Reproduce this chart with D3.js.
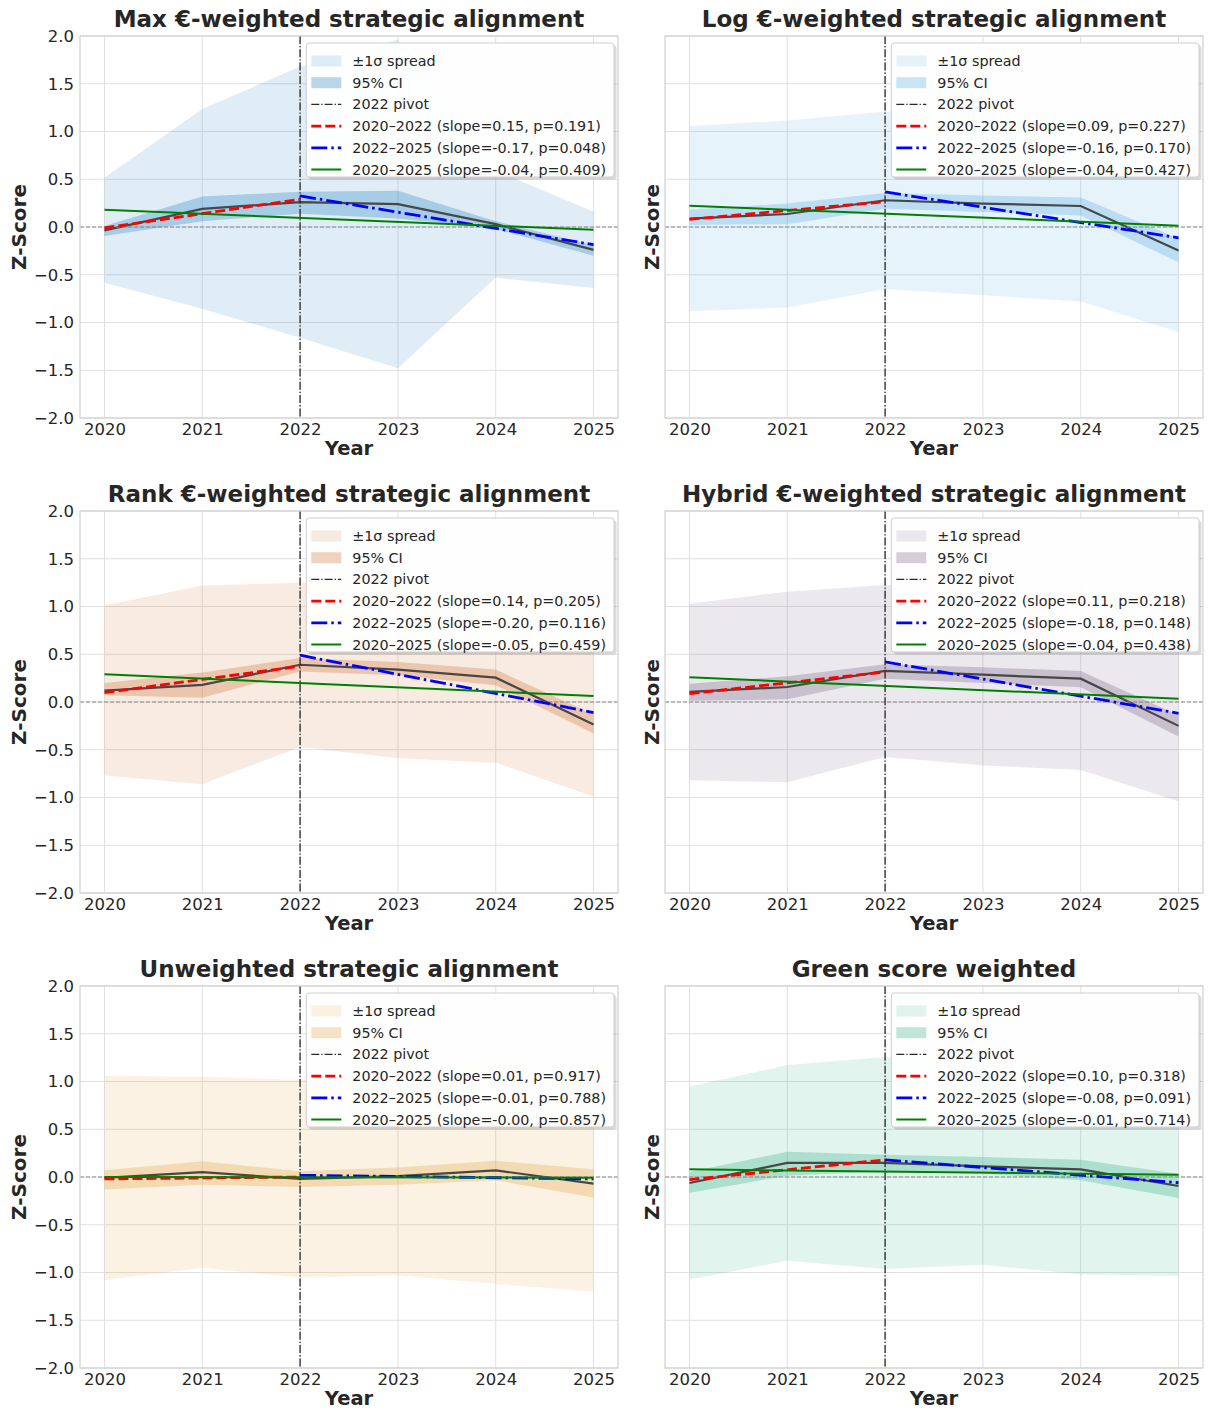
<!DOCTYPE html>
<html>
<head>
<meta charset="utf-8">
<script src="https://cdn.jsdelivr.net/npm/d3@7/dist/d3.min.js"></script>
<style>
    body { margin: 0; background: #fff; }
    text { font-family: "DejaVu Sans", sans-serif; fill: #262626; }
</style>
</head>
<body>
<svg id="viz" width="1208" height="1411"></svg>
<script>
var years = [2020, 2021, 2022, 2023, 2024, 2025];
var yTicks = [-2, -1.5, -1, -0.5, 0, 0.5, 1, 1.5, 2];

var titles = [
    "Max \u20ac-weighted strategic alignment",
    "Log \u20ac-weighted strategic alignment",
    "Rank \u20ac-weighted strategic alignment",
    "Hybrid \u20ac-weighted strategic alignment",
    "Unweighted strategic alignment",
    "Green score weighted"
];

// yearly mean z-score, one row per panel
var means = [
    [-0.035, 0.19, 0.26, 0.24, 0.03, -0.24],
    [0.087, 0.136, 0.28, 0.245, 0.22, -0.245],
    [0.12, 0.18, 0.39, 0.34, 0.255, -0.235],
    [0.105, 0.157, 0.325, 0.286, 0.244, -0.25],
    [-0.01, 0.05, -0.02, 0.01, 0.07, -0.07],
    [-0.063, 0.147, 0.147, 0.112, 0.08, -0.094]
];

// standard deviation (the +-1 sigma band)
var sds = [
    [0.55, 1.045, 1.42, 1.72, 0.56, 0.40],
    [0.97, 0.98, 0.93, 0.96, 1.0, 0.855],
    [0.89, 1.04, 0.86, 0.93, 0.89, 0.755],
    [0.925, 0.997, 0.90, 0.95, 0.955, 0.79],
    [1.07, 1.0, 1.035, 1.04, 1.19, 1.13],
    [1.01, 1.025, 1.11, 1.03, 1.1, 0.94]
];

// 95% CI bounds
var ciLow = [
    [-0.095, 0.06, 0.14, 0.09, -0.02, -0.30],
    [0.02, 0.03, 0.19, 0.157, 0.12, -0.37],
    [0.07, 0.045, 0.32, 0.28, 0.175, -0.33],
    [0.014, 0.028, 0.244, 0.2, 0.154, -0.36],
    [-0.13, -0.08, -0.105, -0.08, -0.035, -0.215],
    [-0.164, 0.014, 0.06, 0.035, -0.035, -0.22]
];
var ciHigh = [
    [0.01, 0.32, 0.37, 0.38, 0.06, -0.19],
    [0.18, 0.245, 0.356, 0.33, 0.31, -0.12],
    [0.20, 0.31, 0.46, 0.42, 0.34, -0.13],
    [0.19, 0.27, 0.394, 0.363, 0.325, -0.14],
    [0.07, 0.165, 0.06, 0.10, 0.17, 0.08],
    [0.052, 0.265, 0.234, 0.21, 0.18, 0.035]
];

// trend line end values: [start, end]
var trendEarly = [[-0.01, 0.29], [0.08, 0.265], [0.098, 0.375], [0.087, 0.314], [-0.02, 0.0], [-0.028, 0.18]];
var trendLate = [[0.325, -0.185], [0.367, -0.113], [0.49, -0.11], [0.42, -0.118], [0.018, -0.02], [0.18, -0.06]];
var trendAll = [[0.18, -0.03], [0.223, 0.014], [0.29, 0.063], [0.258, 0.035], [0.0, -0.007], [0.08, 0.024]];

var statsEarly = ["slope=0.15, p=0.191", "slope=0.09, p=0.227", "slope=0.14, p=0.205", "slope=0.11, p=0.218", "slope=0.01, p=0.917", "slope=0.10, p=0.318"];
var statsLate = ["slope=-0.17, p=0.048", "slope=-0.16, p=0.170", "slope=-0.20, p=0.116", "slope=-0.18, p=0.148", "slope=-0.01, p=0.788", "slope=-0.08, p=0.091"];
var statsAll = ["slope=-0.04, p=0.409", "slope=-0.04, p=0.427", "slope=-0.05, p=0.459", "slope=-0.04, p=0.438", "slope=-0.00, p=0.857", "slope=-0.01, p=0.714"];

var colors = ["#2e86c1", "#5dade2", "#d2783c", "#7d6a8a", "#e5a84b", "#3cb38a"];

var colLeft = [80, 665];
var rowTop = [36, 511, 986];
var axW = 538, axH = 382;

var svg = d3.select("#viz");

var x = d3.scaleLinear().domain([2019.75, 2025.25]).range([0, axW]);
var y = d3.scaleLinear().domain([-2, 2]).range([axH, 0]);

titles.forEach(function (title, p) {
    var col = p % 2, row = Math.floor(p / 2);
    var g = svg.append("g").attr("transform", "translate(" + colLeft[col] + "," + rowTop[row] + ")");

    g.append("clipPath").attr("id", "clip" + p)
        .append("rect").attr("width", axW).attr("height", axH);

    //grid
    g.append("g").selectAll("line").data(years).enter().append("line")
        .attr("x1", function (d) { return x(d); }).attr("x2", function (d) { return x(d); })
        .attr("y1", 0).attr("y2", axH)
        .attr("stroke", "#e0e0e0").attr("stroke-width", 1);
    g.append("g").selectAll("line").data(yTicks).enter().append("line")
        .attr("y1", function (d) { return y(d); }).attr("y2", function (d) { return y(d); })
        .attr("x1", 0).attr("x2", axW)
        .attr("stroke", "#e0e0e0").attr("stroke-width", 1);

    var plot = g.append("g").attr("clip-path", "url(#clip" + p + ")");
    var rows = years.map(function (yr, i) {
        return { year: yr, mean: means[p][i], sd: sds[p][i], lo: ciLow[p][i], hi: ciHigh[p][i] };
    });

    var spread = d3.area()
        .x(function (d) { return x(d.year); })
        .y0(function (d) { return y(d.mean - d.sd); })
        .y1(function (d) { return y(d.mean + d.sd); });
    var ci = d3.area()
        .x(function (d) { return x(d.year); })
        .y0(function (d) { return y(d.lo); })
        .y1(function (d) { return y(d.hi); });
    var meanLine = d3.line()
        .x(function (d) { return x(d.year); })
        .y(function (d) { return y(d.mean); });

    plot.append("path").datum(rows).attr("d", spread)
        .attr("fill", colors[p]).attr("fill-opacity", 0.15);
    plot.append("path").datum(rows).attr("d", ci)
        .attr("fill", colors[p]).attr("fill-opacity", 0.32);
    plot.append("path").datum(rows).attr("d", meanLine)
        .attr("fill", "none").attr("stroke", "#474747").attr("stroke-width", 2.2);

    // zero line
    plot.append("line")
        .attr("x1", 0).attr("x2", axW).attr("y1", y(0)).attr("y2", y(0))
        .attr("stroke", "#888").attr("stroke-width", 1).attr("stroke-dasharray", "4,2");
    // pivot
    plot.append("line")
        .attr("x1", x(2022)).attr("x2", x(2022)).attr("y1", 0).attr("y2", axH)
        .attr("stroke", "#2a2a2a").attr("stroke-width", 1.3).attr("stroke-dasharray", "8,2,1.3,2");

    var seg = d3.line()
        .x(function (d) { return x(d[0]); })
        .y(function (d) { return y(d[1]); });
    plot.append("path")
        .attr("d", seg([[2020, trendEarly[p][0]], [2022, trendEarly[p][1]]]))
        .attr("fill", "none").attr("stroke", "red").attr("stroke-width", 2.8)
        .attr("stroke-dasharray", "10,4");
    plot.append("path")
        .attr("d", seg([[2022, trendLate[p][0]], [2025, trendLate[p][1]]]))
        .attr("fill", "none").attr("stroke", "blue").attr("stroke-width", 2.8)
        .attr("stroke-dasharray", "16,4,2.5,4");
    plot.append("path")
        .attr("d", seg([[2020, trendAll[p][0]], [2025, trendAll[p][1]]]))
        .attr("fill", "none").attr("stroke", "green").attr("stroke-width", 2);

    //frame
    g.append("rect").attr("width", axW).attr("height", axH)
        .attr("fill", "none").attr("stroke", "#d0d0d0").attr("stroke-width", 1.2);

    //axes
    var xa = g.append("g").attr("transform", "translate(0," + axH + ")")
        .call(d3.axisBottom(x).tickValues(years).tickFormat(d3.format("d")).tickSize(0).tickPadding(5));
    xa.select(".domain").remove();
    xa.selectAll("text").style("font-size", "16.5px").attr("fill", "#262626");

    if (col == 0) {
        var ya = g.append("g")
            .call(d3.axisLeft(y).tickValues(yTicks).tickFormat(d3.format(".1f")).tickSize(0).tickPadding(6));
        ya.select(".domain").remove();
        ya.selectAll("text").style("font-size", "16.5px").attr("fill", "#262626");
    }

    g.append("text").attr("x", axW / 2).attr("y", -9)
        .attr("text-anchor", "middle").style("font-size", "23px").style("font-weight", "bold")
        .text(title);
    g.append("text").attr("x", axW / 2).attr("y", axH + 37)
        .attr("text-anchor", "middle").style("font-size", "19.5px").style("font-weight", "bold")
        .text("Year");
    g.append("text")
        .attr("transform", "translate(" + (col == 0 ? -61 : -13) + "," + (axH / 2) + ") rotate(-90)")
        .attr("text-anchor", "middle").attr("dominant-baseline", "central")
        .style("font-size", "20px").style("font-weight", "bold")
        .text("Z-Score");

    //legend
    var items = [
        { type: "patch", op: 0.15, label: "\u00b11\u03c3 spread" },
        { type: "patch", op: 0.32, label: "95% CI" },
        { type: "line", color: "#2a2a2a", w: 1.3, dash: "8,2,1.3,2", label: "2022 pivot" },
        { type: "line", color: "red", w: 2.8, dash: "10,4", label: "2020\u20132022 (" + statsEarly[p] + ")" },
        { type: "line", color: "blue", w: 2.8, dash: "16,4,2.5,4", label: "2022\u20132025 (" + statsLate[p] + ")" },
        { type: "line", color: "green", w: 2, dash: null, label: "2020\u20132025 (" + statsAll[p] + ")" }
    ];
    var leg = g.append("g");
    var shadow = leg.append("rect").attr("rx", 3).attr("fill", "#000").attr("opacity", 0.14);
    var box = leg.append("rect").attr("rx", 3).attr("fill", "#fff").attr("fill-opacity", 0.97)
        .attr("stroke", "#cfcfcf").attr("stroke-width", 1);
    var maxW = 0;
    items.forEach(function (it, i) {
        var cy = 18 + i * 21.7;
        if (it.type == "patch") {
            leg.append("rect").attr("x", 5).attr("y", cy - 5.5).attr("width", 30).attr("height", 11)
                .attr("fill", colors[p]).attr("fill-opacity", it.op);
        } else {
            leg.append("line").attr("x1", 5).attr("x2", 35).attr("y1", cy).attr("y2", cy)
                .attr("stroke", it.color).attr("stroke-width", it.w)
                .attr("stroke-dasharray", it.dash);
        }
        var t = leg.append("text").attr("x", 46).attr("y", cy)
            .attr("dominant-baseline", "central").style("font-size", "14.3px")
            .text(it.label);
        maxW = Math.max(maxW, t.node().getComputedTextLength());
    });
    var bw = 46 + maxW + 8, bh = 134;
    box.attr("width", bw).attr("height", bh);
    shadow.attr("x", 2.5).attr("y", 2.5).attr("width", bw).attr("height", bh);
    leg.attr("transform", "translate(" + (axW - 4 - bw) + ",7)");
});
</script>
</body>
</html>
